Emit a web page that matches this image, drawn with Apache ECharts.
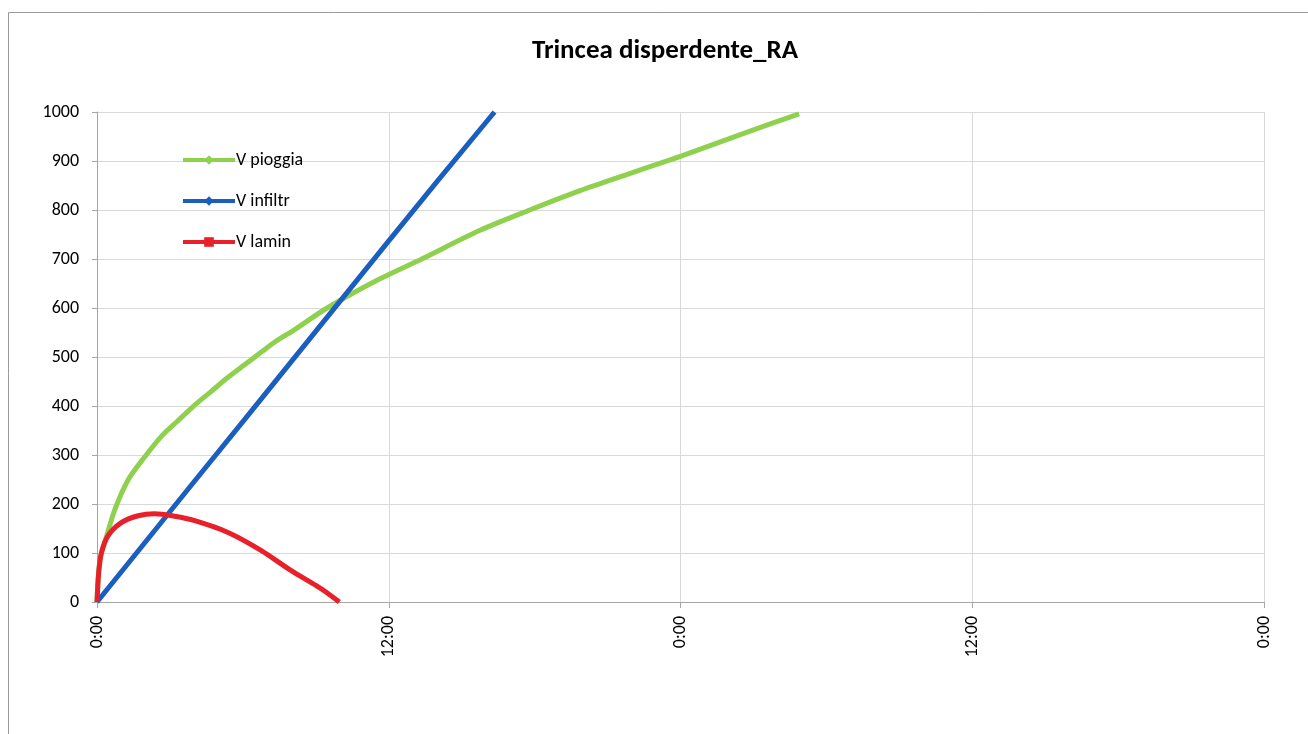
<!DOCTYPE html>
<html>
<head>
<meta charset="utf-8">
<script src="https://cdn.jsdelivr.net/npm/echarts@6/dist/echarts.min.js"></script>
<style>
html,body{margin:0;padding:0;background:#fff;}
#chart{width:1308px;height:734px;}
</style>
</head>
<body>
<div id="chart"></div>
<script>
// Time in hours from start
const pioggiaT = [0, 0.07, 0.18, 0.31, 0.73, 1.29, 1.96, 2.65, 3.33, 4.02, 4.70, 5.38, 6.07, 6.76, 7.3, 8.13, 9.5, 11.62, 13.4, 15.73, 17.8, 19.84, 22.0, 24.08, 26.69, 28.88];
const pioggiaV = [0, 64, 100, 120, 188, 250, 296, 338, 370, 402, 430, 458, 484, 510, 530, 556, 601, 659, 701, 758, 800, 839, 876, 911, 958, 996];

const infiltrT = [0, 2, 4, 6, 8, 10, 12, 14, 16.35];
const infiltrV = [0, 123, 246, 368, 491, 614, 737, 859, 1000];

const laminT = [0, 0.07, 0.18, 0.45, 1.0, 1.69, 2.37, 3.19, 4.02, 5.39, 6.76, 7.99, 9.0, 9.43, 9.97];
const laminV = [0, 60, 100, 135, 162, 176, 180, 175, 166, 142, 105, 64, 34, 20, 0];

const seriesNames = ['V pioggia', 'V infiltr', 'V lamin'];
const seriesColors = ['#8fd14f', '#1a5fbf', '#e8202a'];
const title = 'Trincea disperdente_RA';

function pairs(t, v) { return t.map((x, i) => [x, v[i]]); }

const FONT = 'Carlito, Lato, "Open Sans", sans-serif';
const chart = echarts.init(document.getElementById('chart'));
chart.setOption({
  animation: false,
  backgroundColor: '#fff',
  title: {
    text: title, left: 660, top: 33, textAlign: 'center',
    textStyle: { fontFamily: FONT, fontSize: 27, fontWeight: 'bold', color: '#000' }
  },
  graphic: [{
    type: 'rect', shape: { x: 8.5, y: 12.5, width: 1310, height: 730 },
    style: { fill: null, stroke: '#9a9a9a', lineWidth: 1 }, silent: true, z: -1
  }],
  legend: {
    orient: 'vertical', left: 176, top: 146, itemGap: 23, itemWidth: 52, itemHeight: 12,
    lineStyle: { width: 4 },
    textStyle: { fontFamily: FONT, fontSize: 18, color: '#000', padding: [0, 0, 0, -4] },
    data: seriesNames
  },
  grid: { left: 97, right: 44, top: 112, bottom: 132, containLabel: false },
  xAxis: {
    type: 'value', min: 0, max: 48, interval: 12,
    axisLine: { show: true, lineStyle: { color: '#a6a6a6' } },
    axisTick: { show: true, length: 6, lineStyle: { color: '#a6a6a6' } },
    splitLine: { show: true, lineStyle: { color: '#d9d9d9' } },
    axisLabel: {
      rotate: 90, margin: 14, fontFamily: FONT, fontSize: 18, color: '#000',
      formatter: v => (v % 24) + ':00'
    }
  },
  yAxis: {
    type: 'value', min: 0, max: 1000, interval: 100,
    axisLine: { show: true, lineStyle: { color: '#a6a6a6' } },
    axisTick: { show: true, length: 5, lineStyle: { color: '#a6a6a6' } },
    splitLine: { show: true, lineStyle: { color: '#d9d9d9' } },
    axisLabel: { margin: 18, fontFamily: FONT, fontSize: 18, color: '#000', formatter: v => String(v) }
  },
  series: [
    { name: seriesNames[0], type: 'line', data: pairs(pioggiaT, pioggiaV), smooth: 0.3,
      showSymbol: false, symbol: 'diamond', symbolSize: 6, color: seriesColors[0],
      lineStyle: { width: 5, color: seriesColors[0] }, z: 2 },
    { name: seriesNames[1], type: 'line', data: pairs(infiltrT, infiltrV),
      showSymbol: false, symbol: 'diamond', symbolSize: 6, color: seriesColors[1],
      lineStyle: { width: 5, color: seriesColors[1] }, z: 3 },
    { name: seriesNames[2], type: 'line', data: pairs(laminT, laminV), smooth: 0.3,
      showSymbol: false, symbol: 'rect', symbolSize: 6, color: seriesColors[2],
      lineStyle: { width: 5, color: seriesColors[2] }, z: 4 }
  ]
});
</script>
</body>
</html>
